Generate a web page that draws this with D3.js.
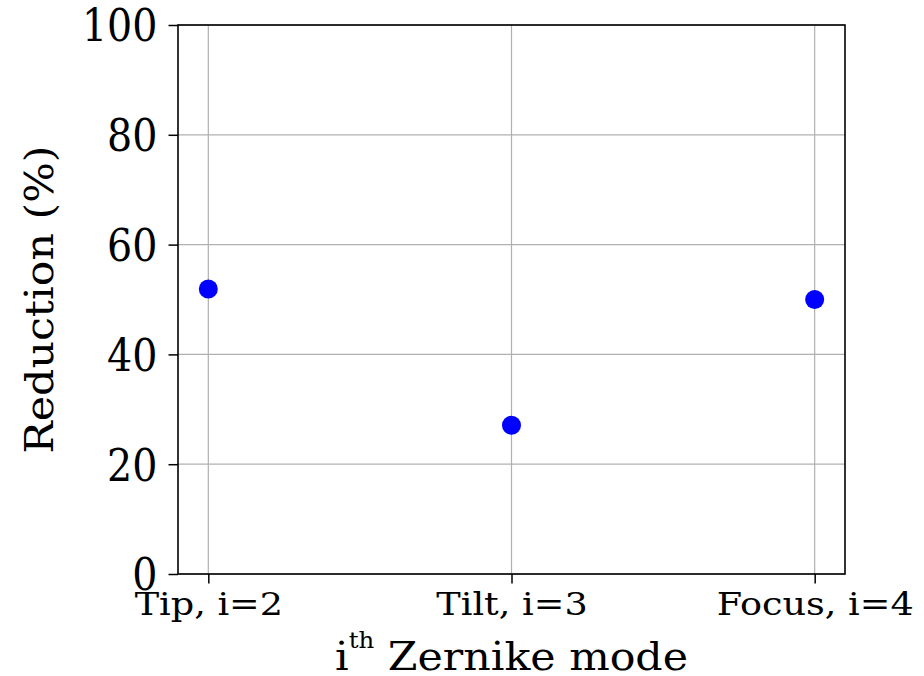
<!DOCTYPE html>
<html>
<head>
<meta charset="utf-8">
<script src="https://cdn.jsdelivr.net/npm/d3@7"></script>
<style>
  html, body { margin: 0; padding: 0; background: #fff; }
  svg text { font-family: "DejaVu Serif", serif; fill: #000; }
</style>
</head>
<body>
<svg id="chart" width="924" height="676"></svg>
<script>
// Zernike modes and the measured reduction for each
const modes = ["Tip, i=2", "Tilt, i=3", "Focus, i=4"];
const reduction = [51.9, 27.1, 50.0];
const yTicks = [0, 20, 40, 60, 80, 100];

const svg = d3.select("#chart");
const W = 924, H = 676;
const margin = { left: 178, top: 25, right: W - 845, bottom: H - 574 };
const TICK = 9.5;

const x = d3.scaleLinear()
  .domain([-0.1, modes.length - 1 + 0.1])
  .range([margin.left, W - margin.right]);
const y = d3.scaleLinear().domain([0, 100]).range([H - margin.bottom, margin.top]);

// grid lines
const grid = svg.append("g").attr("stroke", "#b0b0b0").attr("stroke-width", 1.2);
grid.selectAll("line.v").data(modes).join("line").attr("class", "v")
  .attr("x1", (d, i) => x(i)).attr("x2", (d, i) => x(i))
  .attr("y1", y(0)).attr("y2", y(100));
grid.selectAll("line.h").data(yTicks).join("line").attr("class", "h")
  .attr("x1", x.range()[0]).attr("x2", x.range()[1])
  .attr("y1", d => y(d)).attr("y2", d => y(d));

// x axis: category ticks
const xAxis = d3.axisBottom(x)
  .tickValues(d3.range(modes.length))
  .tickFormat(i => modes[i])
  .tickSize(TICK);
const gx = svg.append("g").attr("transform", `translate(0,${y(0)})`).call(xAxis);
gx.select(".domain").remove();
gx.selectAll(".tick line").attr("stroke", "#000").attr("stroke-width", 1.5);
gx.selectAll(".tick text")
  .attr("font-size", 31).attr("font-family", "DejaVu Serif").attr("fill", "#000")
  .attr("y", 0).attr("dy", 0)
  .attr("transform", "translate(0,41) scale(1.18,1)");

// y axis: percentage ticks
const yAxis = d3.axisLeft(y).tickValues(yTicks).tickSize(TICK);
const gy = svg.append("g").attr("transform", `translate(${x.range()[0]},0)`).call(yAxis);
gy.select(".domain").remove();
gy.selectAll(".tick line").attr("stroke", "#000").attr("stroke-width", 1.5);
gy.selectAll(".tick text")
  .attr("font-size", 44).attr("font-family", "DejaVu Serif").attr("fill", "#000")
  .attr("x", 0).attr("dy", "0.36em")
  .attr("transform", `translate(${-(TICK + 11)},0) scale(0.9,1)`);

// frame
svg.append("rect")
  .attr("x", x.range()[0]).attr("y", y(100))
  .attr("width", x.range()[1] - x.range()[0])
  .attr("height", y(0) - y(100))
  .attr("fill", "none").attr("stroke", "#000").attr("stroke-width", 1.6);

// data points
svg.append("g").selectAll("circle").data(reduction).join("circle")
  .attr("cx", (d, i) => x(i)).attr("cy", d => y(d))
  .attr("r", 9.5).attr("fill", "#0000ff");

// axis titles
const xt = svg.append("text")
  .attr("transform", `translate(${(x.range()[0] + x.range()[1]) / 2},670) scale(1.11,1)`)
  .attr("text-anchor", "middle")
  .attr("font-size", 38.5);
xt.append("tspan").text("i");
xt.append("tspan").attr("font-size", 22).attr("dy", -22).text("th");
xt.append("tspan").attr("dy", 22).text(" Zernike mode");

svg.append("text")
  .attr("transform", `translate(53,${(y(0) + y(100)) / 2}) rotate(-90) scale(1.11,1)`)
  .attr("text-anchor", "middle")
  .attr("font-size", 38.5)
  .text("Reduction (%)");
</script>
</body>
</html>
